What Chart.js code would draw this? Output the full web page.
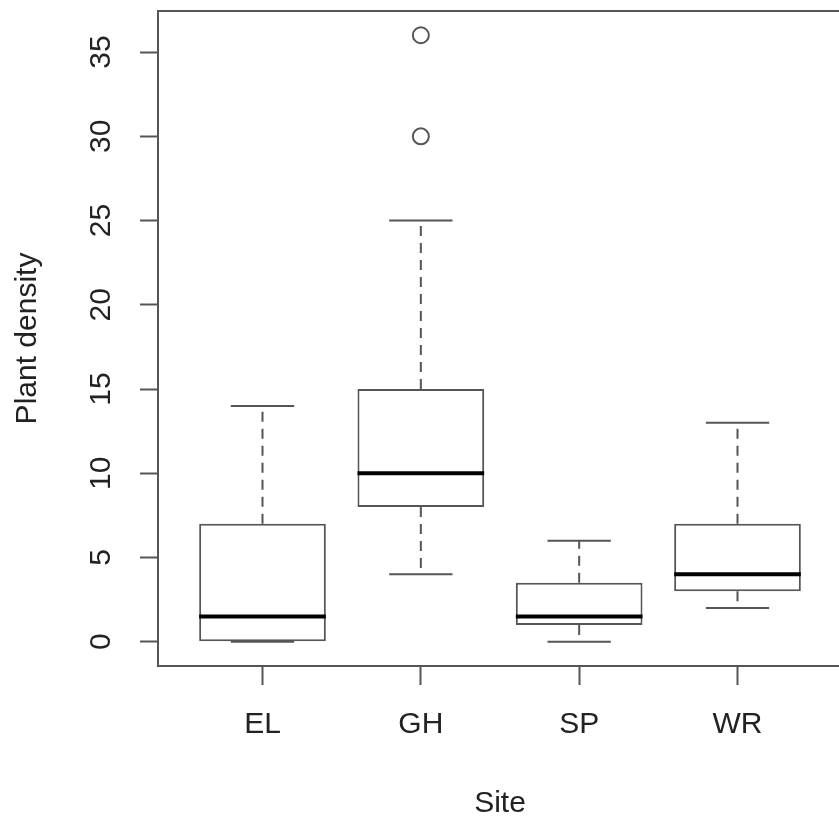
<!DOCTYPE html>
<html>
<head>
<meta charset="utf-8">
<title>Plant density by site</title>
<script src="https://cdn.jsdelivr.net/npm/chart.js@4.4.1/dist/chart.umd.min.js"></script>
<style>
html,body{margin:0;padding:0;background:#fff;overflow:hidden}
#wrap{width:839px;height:822px;overflow:hidden}
</style>
</head>
<body>
<div id="wrap"><canvas id="box" width="852" height="822"></canvas></div>
<script>
// five-number summaries per site
const sites=["EL","GH","SP","WR"]
const lowWhisk=[0,4,0,2]
const q1=[0,8,1,3]
const medians=[1.5,10,1.5,4]
const q3=[7,15,3.5,7]
const highWhisk=[14,25,6,13]
const outliers=[[],[30,36],[],[]]
const yTicks=[0,5,10,15,20,25,30,35]

const BOXWEX=0.8
const STAPLE=0.5*BOXWEX
const LINE="#555"
const TEXT="#222"
const FONT="'Liberation Sans', Arial, sans-serif"

Chart.defaults.font.family=FONT

// segments split by null points so the line breaks between boxes
let whiskers=[]
let caps=[]
let meds=[]
sites.forEach((s,i)=>{
let x=i+1
whiskers.push({x:x,y:q3[i]},{x:x,y:highWhisk[i]},{x:x,y:null})
whiskers.push({x:x,y:q1[i]},{x:x,y:lowWhisk[i]},{x:x,y:null})
caps.push({x:x-STAPLE/2,y:highWhisk[i]},{x:x+STAPLE/2,y:highWhisk[i]},{x:x,y:null})
caps.push({x:x-STAPLE/2,y:lowWhisk[i]},{x:x+STAPLE/2,y:lowWhisk[i]},{x:x,y:null})
meds.push({x:x-BOXWEX/2,y:medians[i]},{x:x+BOXWEX/2,y:medians[i]},{x:x,y:null})
})

let outPts=[]
sites.forEach((s,i)=>outliers[i].forEach(v=>outPts.push({x:i+1,y:v})))

const frame={
id:"frame",
afterDatasetsDraw(chart){
const a=chart.chartArea
const ctx=chart.ctx
ctx.save()
ctx.strokeStyle=LINE
ctx.lineWidth=2
ctx.strokeRect(a.left,a.top,a.right-a.left,a.bottom-a.top)
ctx.restore()
}
}

// y labels run parallel to the axis, like base R graphics
const yLabels={
id:"yLabels",
afterDraw(chart){
const sc=chart.scales.y
const ctx=chart.ctx
ctx.save()
ctx.fillStyle=TEXT
ctx.font="30px "+FONT
ctx.textAlign="center"
ctx.textBaseline="middle"
sc.ticks.forEach(t=>{
ctx.save()
ctx.translate(102,sc.getPixelForValue(t.value))
ctx.rotate(-Math.PI/2)
ctx.fillText(String(t.value),0,0)
ctx.restore()
})
ctx.restore()
}
}

new Chart(document.getElementById("box"),{
type:"bar",
data:{
datasets:[
{
type:"bar",
data:sites.map((s,i)=>({x:i+1,y:[q1[i],q3[i]]})),
backgroundColor:"#fff",
borderColor:LINE,
borderWidth:2,
borderSkipped:false,
barPercentage:BOXWEX,
categoryPercentage:1,
order:3
},
{
type:"line",
data:whiskers,
borderColor:LINE,
borderWidth:2,
borderDash:[10,7],
pointRadius:0,
spanGaps:false,
fill:false,
order:4
},
{
type:"line",
data:caps,
borderColor:LINE,
borderWidth:2,
pointRadius:0,
spanGaps:false,
fill:false,
order:2
},
{
type:"line",
data:meds,
borderColor:"#000",
borderWidth:4,
pointRadius:0,
spanGaps:false,
fill:false,
order:1
},
{
type:"scatter",
data:outPts,
pointRadius:8,
pointBorderWidth:2,
pointBorderColor:LINE,
pointBackgroundColor:"rgba(0,0,0,0)",
showLine:false,
order:0
}
]
},
options:{
responsive:false,
animation:false,
devicePixelRatio:1,
layout:{padding:{top:11,right:6,left:0,bottom:0}},
plugins:{legend:{display:false},tooltip:{enabled:false}},
scales:{
x:{
type:"linear",
min:0.34,
max:4.66,
offset:false,
afterBuildTicks:sc=>{sc.ticks=sites.map((s,i)=>({value:i+1}))},
afterFit:sc=>{sc.height=156},
ticks:{
callback:v=>sites[v-1],
autoSkip:false,
maxRotation:0,
color:TEXT,
font:{size:30},
padding:22
},
grid:{drawOnChartArea:false,tickLength:19,tickWidth:2,tickColor:LINE,offset:false},
border:{display:false},
title:{display:true,text:"Site",color:TEXT,font:{size:30},padding:{top:0,bottom:0}}
},
y:{
type:"linear",
min:-1.44,
max:37.44,
afterBuildTicks:sc=>{sc.ticks=yTicks.map(v=>({value:v}))},
afterFit:sc=>{sc.width=158},
ticks:{display:false},
grid:{drawOnChartArea:false,tickLength:18,tickWidth:2,tickColor:LINE},
border:{display:false},
title:{display:true,text:"Plant density",color:TEXT,font:{size:30},padding:{top:10,bottom:0}}
}
}
},
plugins:[frame,yLabels]
})
</script>
</body>
</html>
